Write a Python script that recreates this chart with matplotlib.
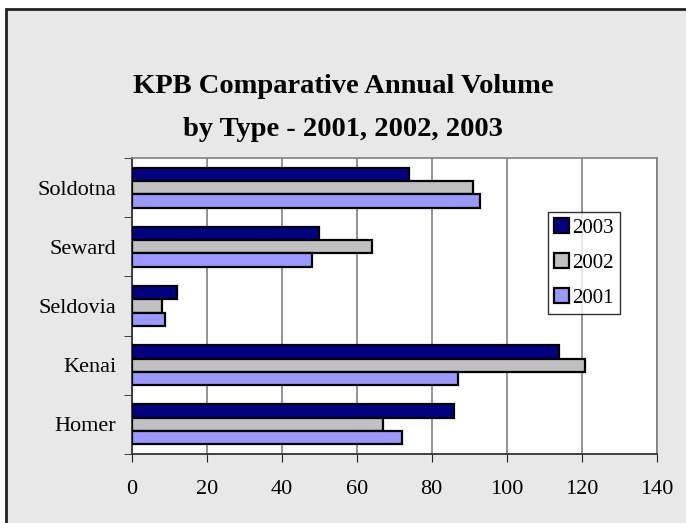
import numpy as np
import matplotlib
matplotlib.use('Agg')
import matplotlib.pyplot as plt
from matplotlib.patches import Rectangle

# 数据
towns = ['Homer', 'Kenai', 'Seldovia', 'Seward', 'Soldotna']
years = ['2003', '2002', '2001']
vol_2003 = [86, 114, 12, 50, 74]
vol_2002 = [67, 121, 8, 64, 91]
vol_2001 = [72, 87, 9, 48, 93]
x_ticks = [0, 20, 40, 60, 80, 100, 120, 140]

plt.rcParams['font.family'] = ['Liberation Serif', 'DejaVu Serif']

fig = plt.figure(figsize=(6.86, 5.23), dpi=100, facecolor='white')

# 灰色外框
fig.patches.append(Rectangle((6 / 686, -0.1), 1.1, 1 - 9 / 523 + 0.1,
                             transform=fig.transFigure, facecolor='#E8E8E8',
                             edgecolor='#222222', linewidth=2, zorder=-10))
fig.text(0.05, 1.012, 'Chart 1.3 :', fontsize=12, va='center', ha='left')

ax = fig.add_axes([131.7 / 686, 69 / 523, 525 / 686, 296 / 523])
ax.set_facecolor('white')

y = np.arange(len(towns))
h = 0.225
colors = ['#000080', '#C0C0C0', '#9999FF']
series = [vol_2003, vol_2002, vol_2001]
for i, (vals, c, lab) in enumerate(zip(series, colors, years)):
    ax.barh(y + h * (1 - i), vals, height=h, color=c, edgecolor='black',
            linewidth=1.6, label=lab, zorder=3)

ax.set_xlim(0, 140)
ax.set_ylim(-0.5, len(towns) - 0.5)
ax.set_xticks(x_ticks)
ax.set_xticklabels([str(t) for t in x_ticks], fontsize=16)
ax.set_yticks(y)
ax.set_yticklabels(towns, fontsize=16)
ax.set_yticks(np.arange(len(towns) + 1) - 0.5, minor=True)
ax.tick_params(axis='y', which='major', length=0, pad=11)
ax.tick_params(axis='y', which='minor', length=6, direction='out', color='#222222')
ax.tick_params(axis='x', length=6, direction='out', color='#222222', pad=13)

ax.grid(axis='x', color='#808080', linewidth=1.2, zorder=0)
for s in ['top', 'right']:
    ax.spines[s].set_color('#808080')
    ax.spines[s].set_linewidth(1.2)
for s in ['left', 'bottom']:
    ax.spines[s].set_color('#333333')
    ax.spines[s].set_linewidth(1.3)

leg = ax.legend(loc='upper left', bbox_to_anchor=((548 - 131.7) / 525, (454 - 211.7) / 296),
                fontsize=15, frameon=True, fancybox=False, edgecolor='black',
                handlelength=0.7, handleheight=0.7, handletextpad=0.15,
                labelspacing=0.75, borderpad=0.3, borderaxespad=0)
leg.get_frame().set_linewidth(1.0)

fig.text(0.5, 1 - 108 / 523, 'KPB Comparative Annual Volume\nby Type - 2001, 2002, 2003',
         ha='center', va='center', fontsize=20.5, fontweight='bold', linespacing=1.95)

fig.savefig('out.png', dpi=100)
